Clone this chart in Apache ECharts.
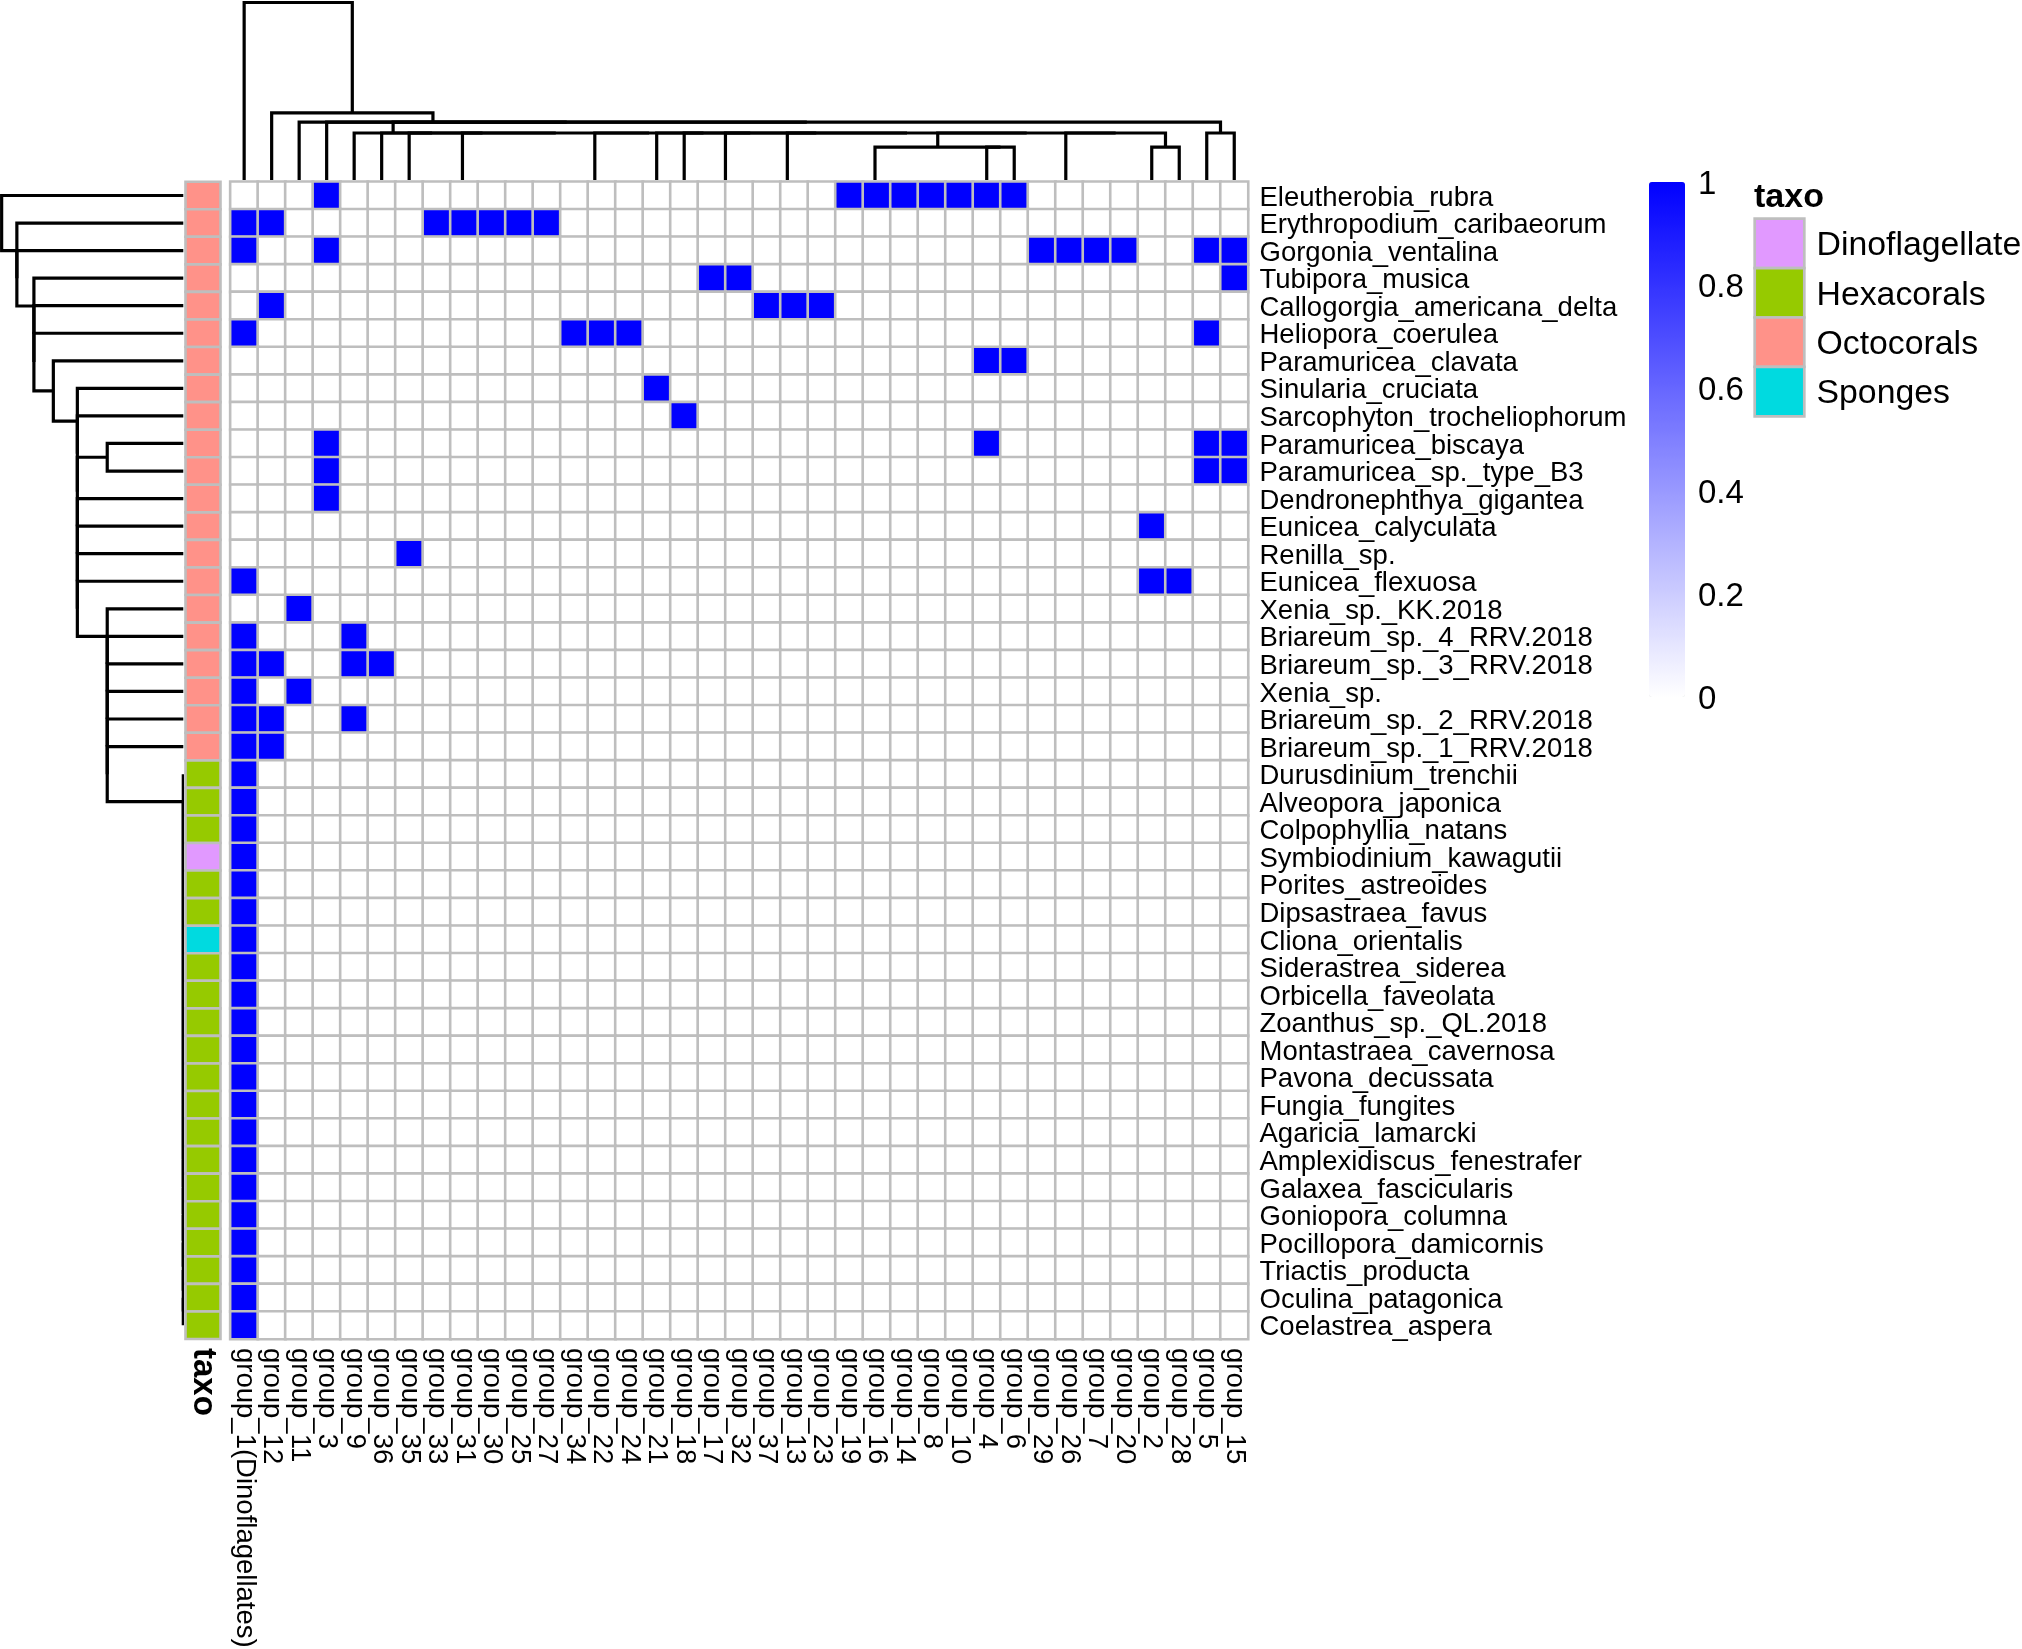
<!DOCTYPE html>
<html><head><meta charset="utf-8">
<script src="https://cdn.jsdelivr.net/npm/echarts@6/dist/echarts.min.js"></script>
<style>html,body{margin:0;padding:0;background:#fff}#c{width:2022px;height:1649px}</style>
</head><body><div id="c"></div>
<script>
// ---------- data ----------
const columns = ['group_1(Dinoflagellates)','group_12','group_11','group_3','group_9','group_36','group_35','group_33','group_31','group_30',
  'group_25','group_27','group_34','group_22','group_24','group_21','group_18','group_17','group_32','group_37',
  'group_13','group_23','group_19','group_16','group_14','group_8','group_10','group_4','group_6','group_29',
  'group_26','group_7','group_20','group_2','group_28','group_5','group_15'];

const rowNames = ['Eleutherobia_rubra','Erythropodium_caribaeorum','Gorgonia_ventalina','Tubipora_musica','Callogorgia_americana_delta',
  'Heliopora_coerulea','Paramuricea_clavata','Sinularia_cruciata','Sarcophyton_trocheliophorum','Paramuricea_biscaya',
  'Paramuricea_sp._type_B3','Dendronephthya_gigantea','Eunicea_calyculata','Renilla_sp.','Eunicea_flexuosa',
  'Xenia_sp._KK.2018','Briareum_sp._4_RRV.2018','Briareum_sp._3_RRV.2018','Xenia_sp.','Briareum_sp._2_RRV.2018',
  'Briareum_sp._1_RRV.2018','Durusdinium_trenchii','Alveopora_japonica','Colpophyllia_natans','Symbiodinium_kawagutii',
  'Porites_astreoides','Dipsastraea_favus','Cliona_orientalis','Siderastrea_siderea','Orbicella_faveolata',
  'Zoanthus_sp._QL.2018','Montastraea_cavernosa','Pavona_decussata','Fungia_fungites','Agaricia_lamarcki',
  'Amplexidiscus_fenestrafer','Galaxea_fascicularis','Goniopora_columna','Pocillopora_damicornis','Triactis_producta',
  'Oculina_patagonica','Coelastrea_aspera'];

const rowTaxo = ['Octocorals','Octocorals','Octocorals','Octocorals','Octocorals','Octocorals','Octocorals','Octocorals','Octocorals','Octocorals',
  'Octocorals','Octocorals','Octocorals','Octocorals','Octocorals','Octocorals','Octocorals','Octocorals','Octocorals','Octocorals',
  'Octocorals','Hexacorals','Hexacorals','Hexacorals','Dinoflagellates','Hexacorals','Hexacorals','Sponges','Hexacorals','Hexacorals',
  'Hexacorals','Hexacorals','Hexacorals','Hexacorals','Hexacorals','Hexacorals','Hexacorals','Hexacorals','Hexacorals','Hexacorals',
  'Hexacorals','Hexacorals'];

const taxoLevels = ['Dinoflagellates','Hexacorals','Octocorals','Sponges'];
const taxoColors = ['#E199FF','#96CA00','#FF9289','#00DAE0'];

const values = [
  [0,0,0,1,0,0,0,0,0,0, 0,0,0,0,0,0,0,0,0,0, 0,0,1,1,1,1,1,1,1,0, 0,0,0,0,0,0,0],
  [1,1,0,0,0,0,0,1,1,1, 1,1,0,0,0,0,0,0,0,0, 0,0,0,0,0,0,0,0,0,0, 0,0,0,0,0,0,0],
  [1,0,0,1,0,0,0,0,0,0, 0,0,0,0,0,0,0,0,0,0, 0,0,0,0,0,0,0,0,0,1, 1,1,1,0,0,1,1],
  [0,0,0,0,0,0,0,0,0,0, 0,0,0,0,0,0,0,1,1,0, 0,0,0,0,0,0,0,0,0,0, 0,0,0,0,0,0,1],
  [0,1,0,0,0,0,0,0,0,0, 0,0,0,0,0,0,0,0,0,1, 1,1,0,0,0,0,0,0,0,0, 0,0,0,0,0,0,0],
  [1,0,0,0,0,0,0,0,0,0, 0,0,1,1,1,0,0,0,0,0, 0,0,0,0,0,0,0,0,0,0, 0,0,0,0,0,1,0],
  [0,0,0,0,0,0,0,0,0,0, 0,0,0,0,0,0,0,0,0,0, 0,0,0,0,0,0,0,1,1,0, 0,0,0,0,0,0,0],
  [0,0,0,0,0,0,0,0,0,0, 0,0,0,0,0,1,0,0,0,0, 0,0,0,0,0,0,0,0,0,0, 0,0,0,0,0,0,0],
  [0,0,0,0,0,0,0,0,0,0, 0,0,0,0,0,0,1,0,0,0, 0,0,0,0,0,0,0,0,0,0, 0,0,0,0,0,0,0],
  [0,0,0,1,0,0,0,0,0,0, 0,0,0,0,0,0,0,0,0,0, 0,0,0,0,0,0,0,1,0,0, 0,0,0,0,0,1,1],
  [0,0,0,1,0,0,0,0,0,0, 0,0,0,0,0,0,0,0,0,0, 0,0,0,0,0,0,0,0,0,0, 0,0,0,0,0,1,1],
  [0,0,0,1,0,0,0,0,0,0, 0,0,0,0,0,0,0,0,0,0, 0,0,0,0,0,0,0,0,0,0, 0,0,0,0,0,0,0],
  [0,0,0,0,0,0,0,0,0,0, 0,0,0,0,0,0,0,0,0,0, 0,0,0,0,0,0,0,0,0,0, 0,0,0,1,0,0,0],
  [0,0,0,0,0,0,1,0,0,0, 0,0,0,0,0,0,0,0,0,0, 0,0,0,0,0,0,0,0,0,0, 0,0,0,0,0,0,0],
  [1,0,0,0,0,0,0,0,0,0, 0,0,0,0,0,0,0,0,0,0, 0,0,0,0,0,0,0,0,0,0, 0,0,0,1,1,0,0],
  [0,0,1,0,0,0,0,0,0,0, 0,0,0,0,0,0,0,0,0,0, 0,0,0,0,0,0,0,0,0,0, 0,0,0,0,0,0,0],
  [1,0,0,0,1,0,0,0,0,0, 0,0,0,0,0,0,0,0,0,0, 0,0,0,0,0,0,0,0,0,0, 0,0,0,0,0,0,0],
  [1,1,0,0,1,1,0,0,0,0, 0,0,0,0,0,0,0,0,0,0, 0,0,0,0,0,0,0,0,0,0, 0,0,0,0,0,0,0],
  [1,0,1,0,0,0,0,0,0,0, 0,0,0,0,0,0,0,0,0,0, 0,0,0,0,0,0,0,0,0,0, 0,0,0,0,0,0,0],
  [1,1,0,0,1,0,0,0,0,0, 0,0,0,0,0,0,0,0,0,0, 0,0,0,0,0,0,0,0,0,0, 0,0,0,0,0,0,0],
  [1,1,0,0,0,0,0,0,0,0, 0,0,0,0,0,0,0,0,0,0, 0,0,0,0,0,0,0,0,0,0, 0,0,0,0,0,0,0],
  [1,0,0,0,0,0,0,0,0,0, 0,0,0,0,0,0,0,0,0,0, 0,0,0,0,0,0,0,0,0,0, 0,0,0,0,0,0,0],
  [1,0,0,0,0,0,0,0,0,0, 0,0,0,0,0,0,0,0,0,0, 0,0,0,0,0,0,0,0,0,0, 0,0,0,0,0,0,0],
  [1,0,0,0,0,0,0,0,0,0, 0,0,0,0,0,0,0,0,0,0, 0,0,0,0,0,0,0,0,0,0, 0,0,0,0,0,0,0],
  [1,0,0,0,0,0,0,0,0,0, 0,0,0,0,0,0,0,0,0,0, 0,0,0,0,0,0,0,0,0,0, 0,0,0,0,0,0,0],
  [1,0,0,0,0,0,0,0,0,0, 0,0,0,0,0,0,0,0,0,0, 0,0,0,0,0,0,0,0,0,0, 0,0,0,0,0,0,0],
  [1,0,0,0,0,0,0,0,0,0, 0,0,0,0,0,0,0,0,0,0, 0,0,0,0,0,0,0,0,0,0, 0,0,0,0,0,0,0],
  [1,0,0,0,0,0,0,0,0,0, 0,0,0,0,0,0,0,0,0,0, 0,0,0,0,0,0,0,0,0,0, 0,0,0,0,0,0,0],
  [1,0,0,0,0,0,0,0,0,0, 0,0,0,0,0,0,0,0,0,0, 0,0,0,0,0,0,0,0,0,0, 0,0,0,0,0,0,0],
  [1,0,0,0,0,0,0,0,0,0, 0,0,0,0,0,0,0,0,0,0, 0,0,0,0,0,0,0,0,0,0, 0,0,0,0,0,0,0],
  [1,0,0,0,0,0,0,0,0,0, 0,0,0,0,0,0,0,0,0,0, 0,0,0,0,0,0,0,0,0,0, 0,0,0,0,0,0,0],
  [1,0,0,0,0,0,0,0,0,0, 0,0,0,0,0,0,0,0,0,0, 0,0,0,0,0,0,0,0,0,0, 0,0,0,0,0,0,0],
  [1,0,0,0,0,0,0,0,0,0, 0,0,0,0,0,0,0,0,0,0, 0,0,0,0,0,0,0,0,0,0, 0,0,0,0,0,0,0],
  [1,0,0,0,0,0,0,0,0,0, 0,0,0,0,0,0,0,0,0,0, 0,0,0,0,0,0,0,0,0,0, 0,0,0,0,0,0,0],
  [1,0,0,0,0,0,0,0,0,0, 0,0,0,0,0,0,0,0,0,0, 0,0,0,0,0,0,0,0,0,0, 0,0,0,0,0,0,0],
  [1,0,0,0,0,0,0,0,0,0, 0,0,0,0,0,0,0,0,0,0, 0,0,0,0,0,0,0,0,0,0, 0,0,0,0,0,0,0],
  [1,0,0,0,0,0,0,0,0,0, 0,0,0,0,0,0,0,0,0,0, 0,0,0,0,0,0,0,0,0,0, 0,0,0,0,0,0,0],
  [1,0,0,0,0,0,0,0,0,0, 0,0,0,0,0,0,0,0,0,0, 0,0,0,0,0,0,0,0,0,0, 0,0,0,0,0,0,0],
  [1,0,0,0,0,0,0,0,0,0, 0,0,0,0,0,0,0,0,0,0, 0,0,0,0,0,0,0,0,0,0, 0,0,0,0,0,0,0],
  [1,0,0,0,0,0,0,0,0,0, 0,0,0,0,0,0,0,0,0,0, 0,0,0,0,0,0,0,0,0,0, 0,0,0,0,0,0,0],
  [1,0,0,0,0,0,0,0,0,0, 0,0,0,0,0,0,0,0,0,0, 0,0,0,0,0,0,0,0,0,0, 0,0,0,0,0,0,0],
  [1,0,0,0,0,0,0,0,0,0, 0,0,0,0,0,0,0,0,0,0, 0,0,0,0,0,0,0,0,0,0, 0,0,0,0,0,0,0]
];

// dendrograms: h = merge height (fraction of tree panel), c = children (leaf index or subtree).
// multi-child nodes are tied merges (resolved as a right-nested chain, like hclust ties).
const hexLeaves = [21,22,23,24,25,26,27,28,29,30,31,32,33,34,35,36,37,38,39,40,41];
const rowTree = {h:0.991, c:[0, {h:0.908, c:[1, 2, {h:0.815, c:[3, 4, 5, {h:0.709, c:[6,
  {h:0.578, c:[7, 8, {h:0.415, c:[9, 10]}, 11, 12, 13, 14,
    {h:0.415, c:[15, 16, 17, 18, 19, 20, {h:0, c:hexLeaves}]}]}]}]}]}]};

const colTree = {h:0.986, c:[0, {h:0.373, c:[1, {h:0.322, c:[2, 3,
  {h:0.261, c:[4, 5, 6, {h:0, c:[7,8,9,10,11]}, {h:0, c:[12,13,14]}, 15, 16, {h:0, c:[17,18]},
     {h:0, c:[19,20,21]}, {h:0.183, c:[{h:0, c:[22,23,24,25,26]}, 27, 28]},
     {h:0, c:[29,30,31,32]}, {h:0.183, c:[33,34]}]},
  {h:0.261, c:[35,36]}]}]}]};

const colorbarTicks = [0, 0.2, 0.4, 0.6, 0.8, 1];

// ---------- helpers ----------
function treeSegments(tree, drawZero, horizontal) {
  const segs = [];
  function lay(node) {
    if (typeof node === 'number') return {p: node, h: 0};
    const kids = node.c.map(lay);
    let right = kids[kids.length - 1];
    for (let i = kids.length - 2; i >= 0; i--) {
      const left = kids[i];
      if (node.h > 0 || drawZero) {
        const pts = [[left.p, left.h], [left.p, node.h], [right.p, node.h], [right.p, right.h]];
        segs.push([].concat(...pts.map(q => horizontal ? [q[1], q[0]] : q)));
      }
      right = {p: (left.p + right.p) / 2, h: node.h};
    }
    return right;
  }
  lay(tree);
  return segs;
}

const heatData = [];
values.forEach((row, r) => row.forEach((v, c) => heatData.push([c, r, v])));
const annoData = rowTaxo.map((t, r) => [0, r, taxoLevels.indexOf(t)]);

const FONT = '"Liberation Sans", Arial, Helvetica, sans-serif';
const HM = {left: 230.4, top: 181.7, width: 1017.6, height: 1157.3};
const BORDER = '#BEBEBE';

function dendroRender(params, api) {
  const pts = [];
  for (let k = 0; k < 4; k++) pts.push(api.coord([api.value(2 * k), api.value(2 * k + 1)]));
  return {type: 'polyline', shape: {points: pts},
    style: {stroke: '#000', lineWidth: 3.2, fill: null, lineJoin: 'miter', lineCap: 'butt'}};
}

const chart = echarts.init(document.getElementById('c'), null, {renderer: 'canvas'});

const legendGraphics = [{
  type: 'text', left: 1754, top: 180.5, style: {text: 'taxo', font: 'bold 34px ' + FONT, fill: '#000', verticalAlign: 'top'}
}];

const option = {
  animation: false,
  backgroundColor: '#ffffff',
  grid: [
    Object.assign({outerBoundsMode: 'none'}, HM),
    {left: 185.5, top: HM.top, width: 35, height: HM.height, outerBoundsMode: 'none'},
    {left: 0, top: HM.top, width: 183.3, height: HM.height, outerBoundsMode: 'none'},
    {left: HM.left, top: 0, width: HM.width, height: 180, outerBoundsMode: 'none'},
    {left: 1649, top: 182, width: 36, height: 515, outerBoundsMode: 'none'}
  ],
  xAxis: [
    {type: 'category', gridIndex: 0, data: columns, position: 'bottom',
     axisLine: {show: false}, axisTick: {show: false}, splitLine: {show: false},
     axisLabel: {interval: 0, rotate: -90, margin: 9, fontSize: 27.5, fontFamily: FONT, color: '#000'}},
    {type: 'category', gridIndex: 1, data: ['taxo'], position: 'bottom',
     axisLine: {show: false}, axisTick: {show: false},
     axisLabel: {interval: 0, rotate: -90, margin: 9, fontSize: 33, fontWeight: 'bold', fontFamily: FONT, color: '#000'}},
    {type: 'value', gridIndex: 2, min: 0, max: 1, inverse: true, show: false},
    {type: 'value', gridIndex: 3, min: -0.5, max: columns.length - 0.5, show: false},
    {type: 'value', gridIndex: 4, min: 0, max: 1, show: false}
  ],
  yAxis: [
    {type: 'category', gridIndex: 0, data: rowNames, inverse: true, position: 'right',
     axisLine: {show: false}, axisTick: {show: false}, splitLine: {show: false},
     axisLabel: {interval: 0, margin: 11.5, fontSize: 27.5, fontFamily: FONT, color: '#000',
       formatter: v => '{a|' + v + '}',
       rich: {a: {fontSize: 27.5, fontFamily: FONT, color: '#000', padding: [5, 0, 0, 0]}}}},
    {type: 'category', gridIndex: 1, data: rowNames, inverse: true, show: false},
    {type: 'value', gridIndex: 2, min: -0.5, max: rowNames.length - 0.5, inverse: true, show: false},
    {type: 'value', gridIndex: 3, min: 0, max: 1, show: false},
    {type: 'value', gridIndex: 4, min: 0, max: 1, interval: 0.2, position: 'right',
     axisLine: {show: false}, axisTick: {show: false}, splitLine: {show: false},
     axisLabel: {margin: 13, fontSize: 33, fontFamily: FONT, color: '#000',
       customValues: colorbarTicks, formatter: v => '{a|' + String(+v.toFixed(1)) + '}',
       rich: {a: {fontSize: 33, fontFamily: FONT, color: '#000', padding: [6, 0, 0, 0]}}}}
  ],
  visualMap: [{
    type: 'continuous', seriesIndex: 0, dimension: 2, min: 0, max: 1,
    left: 1649, top: 182, itemWidth: 36, itemHeight: 515, padding: 0,
    calculable: false, hoverLink: false, showLabel: false,
    inRange: {color: ['#FFFFFF', '#0000FF']}
  }],
  series: [
    {type: 'heatmap', xAxisIndex: 0, yAxisIndex: 0, data: heatData,
     itemStyle: {borderColor: BORDER, borderWidth: 2.6}, emphasis: {disabled: true}, silent: true},
    {type: 'custom', xAxisIndex: 1, yAxisIndex: 1, data: annoData, silent: true,
     renderItem: function (params, api) {
       const c = api.coord([api.value(0), api.value(1)]);
       const s = api.size([1, 1]);
       return {type: 'rect', shape: {x: c[0] - s[0] / 2, y: c[1] - s[1] / 2, width: s[0], height: s[1]},
         style: {fill: taxoColors[api.value(2)], stroke: BORDER, lineWidth: 2.6}};
     }},
    {type: 'custom', xAxisIndex: 2, yAxisIndex: 2, clip: true, silent: true,
     data: treeSegments(rowTree, true, true), renderItem: dendroRender},
    {type: 'custom', xAxisIndex: 3, yAxisIndex: 3, clip: true, silent: true,
     data: treeSegments(colTree, false, false), renderItem: dendroRender}
  ],
  graphic: legendGraphics
};

// taxo legend (swatches + labels)
const SW = {x: 1754.7, y: 218.7, w: 49.6, h: 49.4};
taxoLevels.forEach((t, i) => {
  legendGraphics.push({type: 'rect', shape: {x: SW.x, y: SW.y + SW.h * i, width: SW.w, height: SW.h},
    style: {fill: taxoColors[i], stroke: BORDER, lineWidth: 2.7}, silent: true});
  legendGraphics.push({type: 'text', x: 1816.5, y: SW.y + SW.h * (i + 0.5) + 2.5,
    style: {text: t, font: '33.8px ' + FONT, fill: '#000', verticalAlign: 'middle', align: 'left'}, silent: true});
});

chart.setOption(option);
</script>
</body></html>
